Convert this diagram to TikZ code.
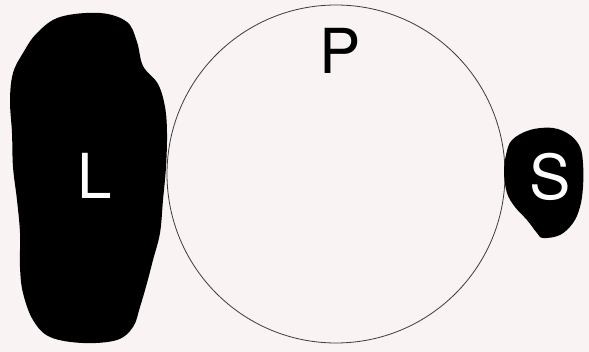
\documentclass[tikz,border=0pt]{standalone}
\usepackage{fontspec}
\setmainfont{TeX Gyre Heros}
\definecolor{bgcol}{RGB}{249,243,243}
\definecolor{linecol}{RGB}{60,60,60}
\begin{document}
\begin{tikzpicture}[x=1pt,y=-1pt,
  lbl/.style={font=\fontsize{62}{62}\selectfont, inner sep=0pt}]
\fill[bgcol] (0,0) rectangle (589,352);
\useasboundingbox (0,0) rectangle (589,352);
% circle P
\draw[linecol, line width=0.8pt] (336,174) circle (169);
\node[lbl, text=black] (P) at (340,51) {P};
% blob L
\fill[black] plot[smooth cycle, tension=0.6] coordinates {
 (60,17) (100,13) (127,22) (137,42) (143,66) (158,84) (165,107) (167,133)
 (166,167) (163,200) (160,233) (153,260) (147,283) (140,307) (133,327)
 (117,340) (83,343) (50,337) (33,320) (23,293) (20,267) (20,233) (17,200)
 (13,167) (12,133) (10,100) (13,73) (23,53) (37,33)};
\node[lbl, text=white] (L) at (95,176) {L};
% blob S
\fill[black] plot[smooth cycle, tension=0.6] coordinates {
 (512,140) (530,130) (553,128) (570,135) (580,147) (583,163) (583,187)
 (580,207) (573,223) (560,235) (543,238) (537,233) (527,220) (515,207)
 (507,193) (504,173) (506,155)};
\node[lbl, text=white] (S) at (550,177) {S};
\end{tikzpicture}
\end{document}
